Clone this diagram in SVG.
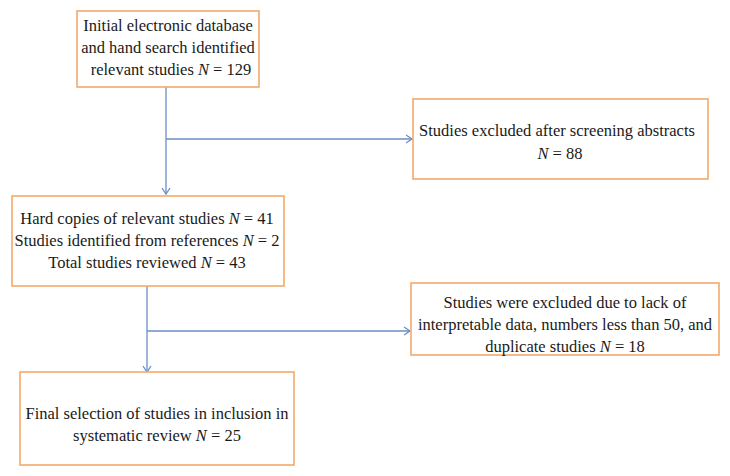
<svg xmlns="http://www.w3.org/2000/svg" width="730" height="476" viewBox="0 0 730 476">
<style>
.box{fill:#ffffff;stroke:#f4a96a;stroke-width:1.6}
.t{font-family:"Liberation Serif","Times New Roman",serif;font-size:16.5px;fill:#1a1a1a;text-anchor:middle}
.i{font-style:italic}
.c{fill:none;stroke:#6a8fc6;stroke-width:1.3}
</style>
<defs>
<marker id="ah" markerWidth="10" markerHeight="10" refX="7" refY="5" orient="auto" markerUnits="userSpaceOnUse">
<path d="M1,1 L7,5 L1,9" fill="none" stroke="#6a8fc6" stroke-width="1.3"/>
</marker>
</defs>
<rect width="730" height="476" fill="#ffffff"/>
<g id="connectors">
<line class="c" x1="166" y1="87" x2="166" y2="194" marker-end="url(#ah)"/>
<line class="c" x1="166" y1="139" x2="412" y2="139" marker-end="url(#ah)"/>
<line class="c" x1="147" y1="286" x2="147" y2="372" marker-end="url(#ah)"/>
<line class="c" x1="147" y1="331" x2="410" y2="331" marker-end="url(#ah)"/>
</g>
<g id="n1">
<rect class="box" x="77" y="11" width="182" height="76"/>
<text class="t" x="168" y="31">Initial electronic database</text>
<text class="t" x="168" y="53">and hand search identified</text>
<text class="t" x="171" y="75">relevant studies <tspan class="i">N</tspan> = 129</text>
</g>
<g id="n2">
<rect class="box" x="413" y="99" width="295" height="80"/>
<text class="t" x="557" y="136">Studies excluded after screening abstracts</text>
<text class="t" x="560" y="159"><tspan class="i">N</tspan> = 88</text>
</g>
<g id="n3">
<rect class="box" x="12" y="196" width="272" height="90"/>
<text class="t" x="147" y="224">Hard copies of relevant studies <tspan class="i">N</tspan> = 41</text>
<text class="t" x="147" y="246">Studies identified from references <tspan class="i">N</tspan> = 2</text>
<text class="t" x="147" y="268">Total studies reviewed <tspan class="i">N</tspan> = 43</text>
</g>
<g id="n4">
<rect class="box" x="411" y="283" width="308" height="72"/>
<text class="t" x="565" y="308">Studies were excluded due to lack of</text>
<text class="t" x="565" y="330">interpretable data, numbers less than 50, and</text>
<text class="t" x="565" y="352">duplicate studies <tspan class="i">N</tspan> = 18</text>
</g>
<g id="n5">
<rect class="box" x="20" y="372" width="274" height="93"/>
<text class="t" x="157" y="419">Final selection of studies in inclusion in</text>
<text class="t" x="157" y="441">systematic review <tspan class="i">N</tspan> = 25</text>
</g>
</svg>
